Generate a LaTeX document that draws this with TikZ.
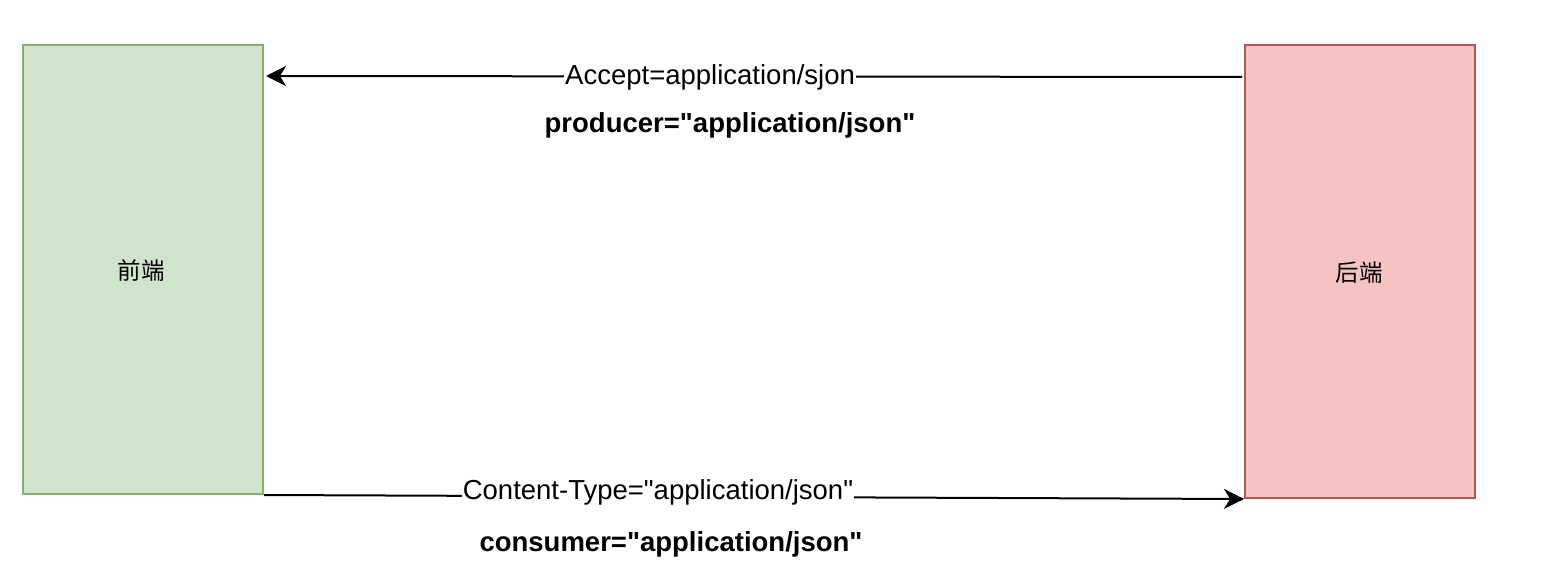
\documentclass[tikz,border=0pt]{standalone}
\usepackage{fontspec}
\newfontfamily\lab{Liberation Sans}
\newfontfamily\cjk{Noto Sans CJK SC}
\usetikzlibrary{arrows.meta,calc}
\definecolor{gfill}{HTML}{CFE3CD}
\definecolor{gline}{HTML}{82B366}
\definecolor{rfill}{HTML}{F4C3C2}
\definecolor{rline}{HTML}{B85450}
\begin{document}
\begin{tikzpicture}[x=1pt,y=-1pt,
  boxg/.style={draw=gline,fill=gfill,line width=2pt},
  boxr/.style={draw=rline,fill=rfill,line width=2pt},
  conn/.style={line width=2pt,-{Stealth[length=20pt,width=20pt,inset=6pt]}},
  elabel/.style={fill=white,inner sep=1pt,font=\lab\fontsize{27.5}{30}\selectfont},
  blabel/.style={inner sep=0pt,font=\lab\fontsize{27.5}{30}\selectfont\bfseries},
  cjklabel/.style={font=\cjk\fontsize{23.5}{26}\selectfont}]
\useasboundingbox (0,0) rectangle (1546,588);
\node[boxg,minimum width=240pt,minimum height=449pt,inner sep=0pt] (front) at (143,269.5) {};
\node[cjklabel] (fronttxt) at (141,271) {前端};
\node[boxr,minimum width=230pt,minimum height=453pt,inner sep=0pt] (back) at (1360,271.5) {};
\node[cjklabel] (backtxt) at (1359,273) {后端};
\coordinate (tstart) at ($(back.north west)+(-2,33)$);
\coordinate (tend) at ($(front.north east)+(2,32)$);
\draw[conn] (tstart) -- node[elabel,pos=0.545,yshift=-1pt] (acc) {Accept=application/sjon} (tend);
\draw[conn] (front.south east) -- node[elabel,pos=0.402,yshift=4.5pt] (ct) {Content-Type="application/json"} (back.south west);
\node[blabel] (prod) at (730,125) {producer="application/json"};
\node[blabel] (cons) at (671,544) {consumer="application/json"};
\end{tikzpicture}
\end{document}
